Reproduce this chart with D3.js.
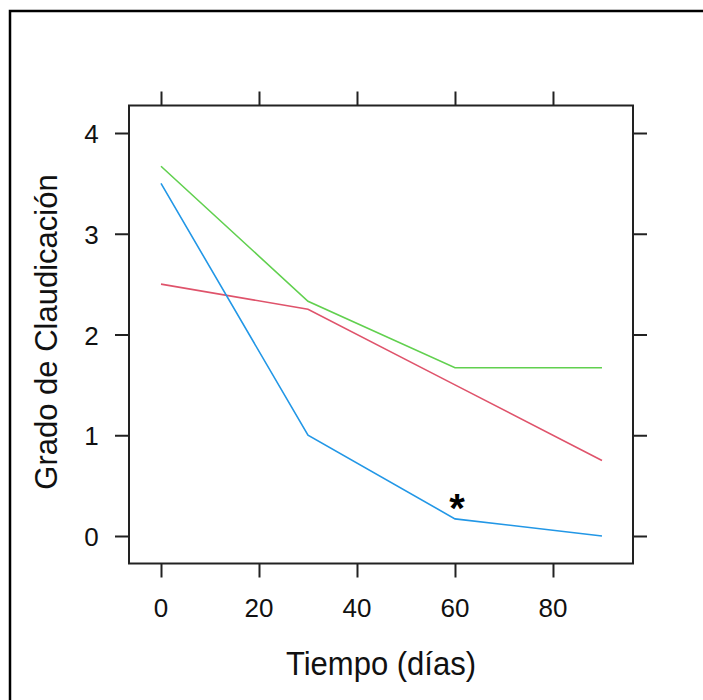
<!DOCTYPE html>
<html>
<head>
<meta charset="utf-8">
<script src="https://cdn.jsdelivr.net/npm/d3@7"></script>
<style>
  body { margin: 0; background: #fff; }
  svg { font-family: "Liberation Sans", Arial, sans-serif; }
</style>
</head>
<body>
<div id="chart"></div>
<script>
// Data
const dias = [0, 30, 60, 90]
const grupoRojo = [2.5, 2.25, 1.5, 0.75]
const grupoVerde = [3.67, 2.33, 1.67, 1.67]
const grupoAzul = [3.5, 1.0, 0.17, 0]
const xTicks = [0, 20, 40, 60, 80]
const yTicks = [0, 1, 2, 3, 4]
const marca = { dia: 60, valor: 0.36, texto: '*' }

const series = [
  { name: 'rojo', values: grupoRojo, color: '#DF536B' },
  { name: 'verde', values: grupoVerde, color: '#61D04F' },
  { name: 'azul', values: grupoAzul, color: '#2297E6' },
]

// Dimensions
const width = 703
const height = 700
const panel = { left: 129, right: 633, top: 105.5, bottom: 563.5 }
const tickLen = 14

const svg = d3.select('#chart')
  .append('svg')
  .attr('width', width)
  .attr('height', height)

// outer frame (only top/left visible)
svg.append('rect')
  .attr('x', 10).attr('y', 11)
  .attr('width', 900).attr('height', 900)
  .attr('fill', 'none')
  .attr('stroke', '#000')
  .attr('stroke-width', 2.5)

// scales
const x = d3.scaleLinear()
  .domain([-6.53, 96.33])
  .range([panel.left, panel.right])
const y = d3.scaleLinear()
  .domain([-0.273, 4.273])
  .range([panel.bottom, panel.top])

// axes (ticks on all four sides, lattice style)
const axes = [
  { axis: d3.axisBottom(x), t: `translate(0,${panel.bottom})` },
  { axis: d3.axisTop(x), t: `translate(0,${panel.top})` },
  { axis: d3.axisLeft(y), t: `translate(${panel.left},0)` },
  { axis: d3.axisRight(y), t: `translate(${panel.right},0)` },
]
axes.forEach((a, i) => {
  const ax = a.axis
    .tickValues(i < 2 ? xTicks : yTicks)
    .tickSize(tickLen)
    .tickSizeOuter(0)
  const g = svg.append('g').attr('transform', a.t).call(ax)
  g.select('.domain').remove()
  g.selectAll('.tick line').attr('stroke', '#222').attr('stroke-width', 2)
  g.selectAll('.tick text').remove()
})

// tick labels
const lab = svg.append('g')
  .attr('font-size', 26)
  .attr('fill', '#111')
  .attr('text-anchor', 'middle')
lab.selectAll('.xl')
  .data(xTicks)
  .join('text')
  .attr('x', d => x(d))
  .attr('y', 617)
  .text(d => d)
lab.selectAll('.yl')
  .data(yTicks)
  .join('text')
  .attr('x', 91.5)
  .attr('y', d => y(d) + 10)
  .text(d => d)

// lines
const line = d3.line()
  .x((d, i) => x(dias[i]))
  .y(d => y(d))

svg.append('g')
  .selectAll('path')
  .data(series)
  .join('path')
  .attr('d', d => line(d.values))
  .attr('fill', 'none')
  .attr('stroke', d => d.color)
  .attr('stroke-width', 1.6)

// panel border
svg.append('rect')
  .attr('x', panel.left).attr('y', panel.top)
  .attr('width', panel.right - panel.left)
  .attr('height', panel.bottom - panel.top)
  .attr('fill', 'none')
  .attr('stroke', '#222')
  .attr('stroke-width', 2)

// asterisk
svg.append('text')
  .attr('x', x(marca.dia) + 2)
  .attr('y', y(marca.valor) + 22)
  .attr('text-anchor', 'middle')
  .attr('font-size', 40)
  .attr('font-weight', 'bold')
  .attr('fill', '#000')
  .text(marca.texto)

// axis titles
svg.append('text')
  .attr('transform', 'translate(381,675) scale(0.94,1)')
  .attr('text-anchor', 'middle')
  .attr('font-size', 33)
  .attr('fill', '#111')
  .text('Tiempo (días)')

svg.append('text')
  .attr('transform', 'translate(57,332) rotate(-90)')
  .attr('text-anchor', 'middle')
  .attr('font-size', 31)
  .attr('fill', '#111')
  .text('Grado de Claudicación')
</script>
</body>
</html>
